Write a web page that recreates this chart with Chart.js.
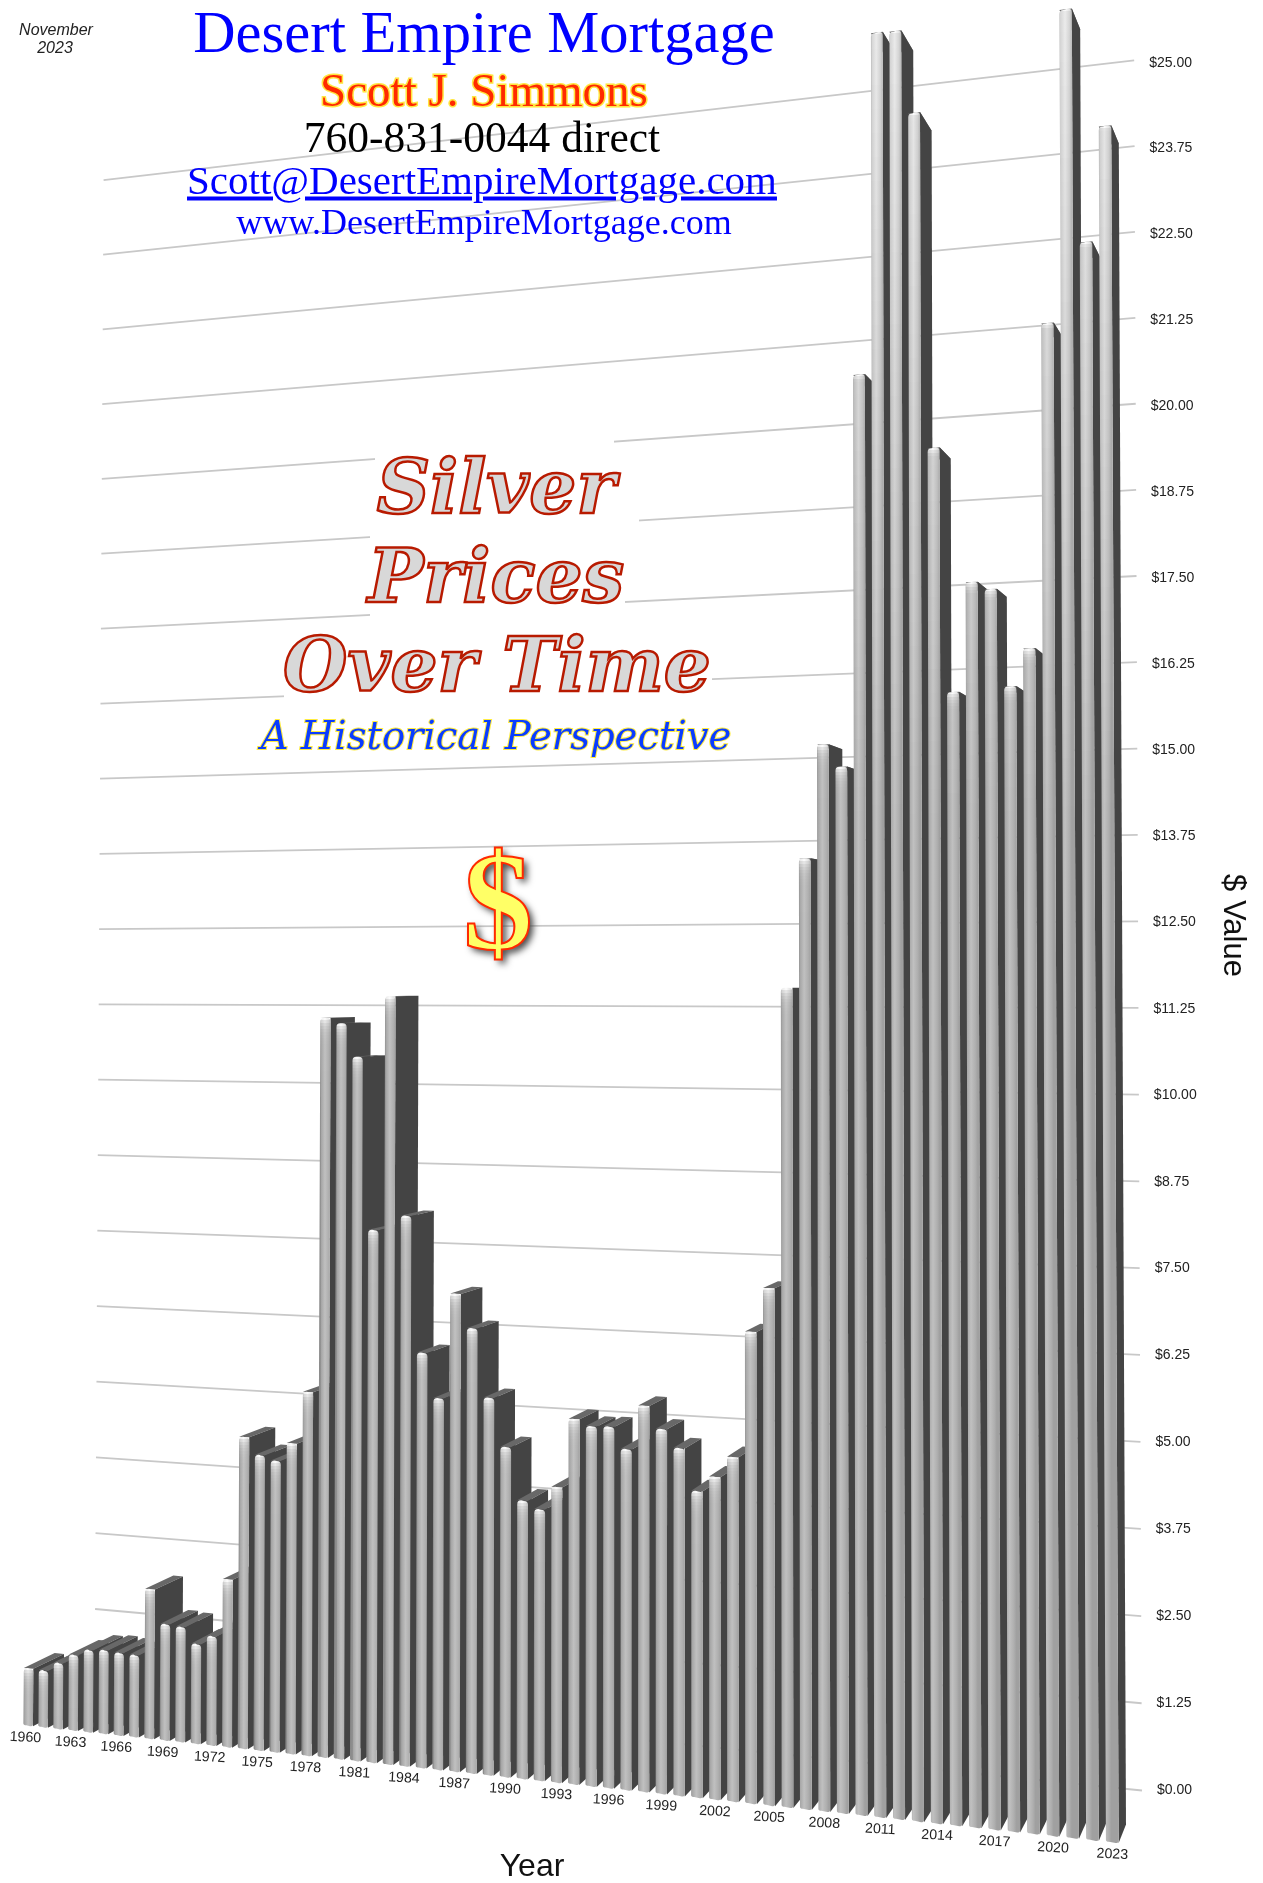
<!DOCTYPE html>
<html>
<head>
<meta charset="utf-8">
<title>Silver Prices Over Time</title>
<script src="https://cdn.jsdelivr.net/npm/chart.js@4/dist/chart.umd.min.js"></script>
<style>
  html, body { margin: 0; padding: 0; background: #fff; }
  #page { position: relative; width: 1263px; height: 1883px; overflow: hidden; background: #fff; }
  #chart { position: absolute; left: 0; top: 0; }
  .t { position: absolute; transform: translate(-50%, -50%); white-space: nowrap; line-height: 1; font-family: "Liberation Serif", serif; }
  .mask { position: absolute; background: #fff; }
  .date { font: italic 16px "Liberation Sans", sans-serif; color: #222; }
  .headline { font: italic bold 74px "DejaVu Serif", serif; color: #d8d8d8; -webkit-text-stroke: 2.5px #b81a00; }
</style>
</head>
<body>
<div id="page">
  <canvas id="chart" width="1263" height="1883"></canvas>

  <div class="mask" style="left:375px;top:436px;width:239px;height:34px"></div>
  <div class="mask" style="left:370px;top:515px;width:269px;height:35px"></div>
  <div class="mask" style="left:370px;top:597px;width:255px;height:31px"></div>
  <div class="mask" style="left:284px;top:675px;width:428px;height:30px"></div>

  <div class="t date" style="left:56px;top:30px">November</div>
  <div class="t date" style="left:55px;top:48px">2023</div>

  <div class="t" style="left:484px;top:33px;font-size:58.5px;color:#0000ff">Desert Empire Mortgage</div>
  <div class="t" style="left:484px;top:90px;font-size:47px;color:#ff2a00;-webkit-text-stroke:3px #ffe640;paint-order:stroke fill">Scott J. Simmons</div>
  <div class="t" style="left:482px;top:138px;font-size:43.5px;color:#000">760-831-0044 direct</div>
  <div class="t" style="left:482px;top:180px;font-size:41px;color:#0000ff;text-decoration:underline">Scott@DesertEmpireMortgage.com</div>
  <div class="t" style="left:484px;top:222px;font-size:36px;color:#0000ff">www.DesertEmpireMortgage.com</div>

  <div class="t headline" style="left:496px;top:487px">Silver</div>
  <div class="t headline" style="left:496px;top:576px">Prices</div>
  <div class="t headline" style="left:497px;top:665px">Over Time</div>
  <div class="t" style="left:496px;top:735px;font:italic 38.5px 'DejaVu Serif',serif;color:#0a3cff;-webkit-text-stroke:2px #ffec40;paint-order:stroke fill">A Historical Perspective</div>
  <div class="t" style="left:498px;top:902px;font-size:140px;font-weight:bold;color:#ffff66;-webkit-text-stroke:2px #ff2a00;text-shadow:4px 4px 7px #444">$</div>
</div>

<script>
const years = [];
for (let y = 1960; y <= 2023; y++) years.push(String(y));

const prices = [
  0.90, 0.89, 1.03, 1.18, 1.28, 1.30, 1.28, 1.27, 2.31, 1.79,
  1.77, 1.53, 1.67, 2.56, 4.75, 4.49, 4.42, 4.70, 5.49, 11.14,
  11.06, 10.56, 7.97, 11.47, 8.20, 6.17, 5.51, 7.07, 6.57, 5.56,
  4.85, 4.08, 3.97, 4.31, 5.32, 5.23, 5.24, 4.93, 5.57, 5.25,
  4.99, 4.39, 4.61, 4.91, 6.71, 7.34, 11.60, 13.43, 15.03, 14.71,
  20.20, 24.96, 24.95, 23.78, 19.10, 15.70, 17.21, 17.10, 15.75, 16.26,
  20.70, 24.96, 21.76, 23.31
];

const valueStep = 1.25;
const valueMax = 25;

// two point perspective of the picture
const HORIZON = 980;
const LEFT_VP = -6900;
const RIGHT_VP = 1460;
const WALL_X = 1127;
const FRONT_SCALE = 1.068;
const DEPTH = 0.0215;

function persp(x) {
  return (x - LEFT_VP) / (WALL_X - LEFT_VP);
}

function lean(x, y) {
  return x + (690 - x) * (1790 - y) / 100000;
}

// the wall ticks sit a little closer together in the upper half
function bow(py, area) {
  const mid = (area.top + area.bottom) / 2;
  const half = (area.bottom - area.top) / 2;
  return py - 4 * (1 - Math.pow((py - mid) / half, 2));
}

// flat pixel of the category axis -> picture x of the front plane
function frontX(px, area) {
  const s = (px / area.width * years.length - 0.18) / (years.length - 1);
  return 23 + 1082.7 * s * 0.865 / (1 - 0.135 * s);
}

function frontPoint(px, py, area) {
  const x = frontX(px, area);
  const y = HORIZON + (py - HORIZON) * FRONT_SCALE * persp(x);
  return { x: lean(x, y), y };
}

function backPoint(p) {
  return { x: p.x + (RIGHT_VP - p.x) * DEPTH, y: p.y + (HORIZON - p.y) * DEPTH };
}

function poly(ctx, pts, color) {
  ctx.beginPath();
  pts.forEach((p, i) => (i ? ctx.lineTo(p.x, p.y) : ctx.moveTo(p.x, p.y)));
  ctx.closePath();
  ctx.fillStyle = color;
  ctx.fill();
}

const faceStops = [[0, 140, 0.5], [0.08, 165, 0.8], [0.45, 192, 1], [0.8, 175, 0.7], [1, 160, 0.4]];

function faceGradient(ctx, x0, x1, lift) {
  const g = ctx.createLinearGradient(x0, 0, x1, 0);
  for (const [t, base, w] of faceStops) {
    const c = Math.round(base + (255 - base) * lift * w);
    g.addColorStop(t, `rgb(${c},${c},${c})`);
  }
  return g;
}

function drawBar(ctx, el, area) {
  const l = el.x - el.width / 2;
  const r = el.x + el.width / 2;
  const tl = frontPoint(l, el.y, area);
  const tr = frontPoint(r, el.y, area);
  const bl = frontPoint(l, el.base, area);
  const br = frontPoint(r, el.base, area);

  poly(ctx, [tl, tr, backPoint(tr), backPoint(tl)], '#686868');
  poly(ctx, [tr, backPoint(tr), backPoint(br), br], '#444444');

  ctx.save();
  const rad = 4;
  ctx.beginPath();
  ctx.moveTo(bl.x, bl.y - 2);
  ctx.lineTo(tl.x, tl.y + rad);
  ctx.quadraticCurveTo(tl.x, tl.y, tl.x + rad, tl.y);
  ctx.lineTo(tr.x - rad, tr.y);
  ctx.quadraticCurveTo(tr.x, tr.y, tr.x, tr.y + rad);
  ctx.lineTo(br.x, br.y - 2);
  ctx.quadraticCurveTo(br.x, br.y, br.x - 3, br.y);
  ctx.lineTo(bl.x + 3, bl.y);
  ctx.quadraticCurveTo(bl.x, bl.y, bl.x, bl.y - 2);
  ctx.closePath();
  ctx.clip();

  const top = Math.floor(Math.min(tl.y, tr.y));
  const bottom = Math.ceil(Math.max(bl.y, br.y));
  let y = top;
  while (y < bottom) {
    const step = y - top < 30 ? 3 : 24;
    const global = Math.max(0, 1 - y / 800) * 0.7;
    const local = Math.exp(-(y - top) / 7) * 0.95;
    const lift = Math.max(global, local);
    ctx.fillStyle = faceGradient(ctx, tl.x, tr.x, lift);
    ctx.fillRect(Math.floor(Math.min(tl.x, bl.x)) - 1, y, el.width + 12, step);
    y += step;
  }
  ctx.restore();
}

const perspectivePlugin = {
  id: 'perspective',
  beforeDatasetsDraw(chart) {
    const { ctx, scales, chartArea } = chart;
    ctx.save();
    ctx.strokeStyle = '#c8c8c8';
    ctx.lineWidth = 1.8;
    ctx.fillStyle = '#222';
    ctx.font = '14px "Liberation Sans", sans-serif';
    ctx.textBaseline = 'middle';
    ctx.textAlign = 'left';
    scales.y.ticks.forEach((tick, i) => {
      const py = bow(scales.y.getPixelForTick(i), chartArea);
      const wall = x => {
        const y = HORIZON + (py - HORIZON) * persp(x);
        return { x: lean(x, y), y };
      };
      const a = wall(94);
      const b = wall(1142);
      ctx.beginPath();
      ctx.moveTo(a.x, a.y);
      ctx.lineTo(b.x, b.y);
      ctx.stroke();
      ctx.fillText(tick.label, b.x + 15, py + 1);
    });
    ctx.restore();
  },
  beforeDatasetDraw(chart, args) {
    const meta = chart.getDatasetMeta(args.index);
    meta.data.forEach(el => drawBar(chart.ctx, el, chart.chartArea));
    return false;
  },
  afterDatasetsDraw(chart) {
    const { ctx, scales, chartArea } = chart;
    ctx.save();
    ctx.fillStyle = '#222';
    ctx.font = '14.2px "Liberation Sans", sans-serif';
    ctx.textAlign = 'center';
    ctx.textBaseline = 'middle';
    scales.x.ticks.forEach((tick, i) => {
      if (!tick.label) return;
      const p = frontPoint(scales.x.getPixelForTick(i), scales.y.getPixelForValue(0), chartArea);
      ctx.save();
      ctx.translate(p.x - Math.max(0, (500 - p.x) / 500 * 3), p.y + 12);
      ctx.rotate(3 * Math.PI / 180);
      ctx.fillText(tick.label, 0, 0);
      ctx.restore();
    });
    ctx.restore();
  }
};

new Chart(document.getElementById('chart'), {
  type: 'bar',
  data: {
    labels: years,
    datasets: [{ label: 'Silver', data: prices, backgroundColor: '#b0b0b0', barPercentage: 0.64, categoryPercentage: 1 }]
  },
  plugins: [perspectivePlugin],
  options: {
    responsive: false,
    animation: false,
    layout: { padding: { top: 62, left: 0, right: 0, bottom: 0 } },
    plugins: { legend: { display: false }, tooltip: { enabled: false } },
    scales: {
      x: {
        type: 'category',
        grid: { display: false },
        border: { display: false },
        ticks: {
          display: false,
          autoSkip: false,
          callback: (v, i) => (i % 3 === 0 ? years[i] : '')
        },
        title: { display: true, text: 'Year', color: '#111', font: { family: 'Liberation Sans', size: 32, lineHeight: 1 }, padding: 0 },
        afterFit: s => { s.height = 94; }
      },
      y: {
        position: 'right',
        min: 0,
        max: valueMax,
        grid: { display: false },
        border: { display: false },
        ticks: {
          display: false,
          stepSize: valueStep,
          callback: v => '$' + v.toFixed(2)
        },
        title: { display: true, text: '$ Value', color: '#111', font: { family: 'Liberation Sans', size: 31, lineHeight: 1 }, padding: { top: 15, bottom: 0 } },
        afterFit: s => { s.width = 199; }
      }
    }
  }
});
</script>
</body>
</html>
